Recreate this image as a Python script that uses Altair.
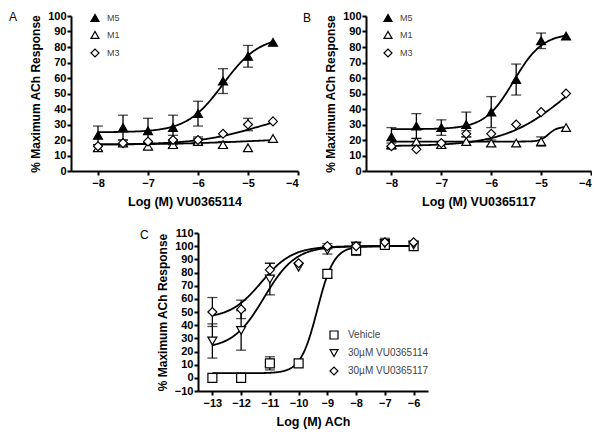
import altair as alt
import pandas as pd

FONT = "Liberation Sans"

# ---------------- data ----------------
dose_ab = [-8, -7.5, -7, -6.5, -6, -5.5, -5, -4.5]
series_ab = ["M5", "M1", "M3"]

a_m5 = [23, 28, 26, 28, 37, 58, 74, 83]
a_m5_err = [6, 8, 8, 8, 8, 8, 7, 0]
a_m1 = [15, 18, 16, 17, 19, 17, 15, 21]
a_m1_err = [2, 0, 2, 2, 2, 2, 0, 0]
a_m3 = [16, 18, 19, 20, 20, 24, 30, 32]
a_m3_err = [0, 2, 0, 3, 2, 0, 4, 0]

b_m5 = [22, 29, 28, 30, 38, 59, 84, 87]
b_m5_err = [6, 8, 5, 8, 10, 10, 5, 0]
b_m1 = [17, 19, 17, 19, 18, 18, 19, 28]
b_m1_err = [0, 2, 2, 0, 2, 0, 3, 0]
b_m3 = [16, 14, 18, 24, 24, 30, 38, 50]
b_m3_err = [2, 0, 0, 2, 0, 0, 0, 0]

dose_c = [-13, -12, -11, -10, -9, -8, -7, -6]
series_c = ["Vehicle", "30\u00b5M VU0365114", "30\u00b5M VU0365117"]
c_veh = [0, 0, 11, 11, 79, 97, 101, 100]
c_veh_err = [0, 0, 5, 0, 3, 4, 3, 0]
c_114 = [28, 36, 75, 84, 97, 100, 102, 101]
c_114_err = [13, 15, 12, 0, 3, 3, 3, 0]
c_117 = [50, 52, 82, 87, 100, 100, 103, 103]
c_117_err = [11, 7, 5, 0, 2, 0, 3, 0]

# fitted sigmoid parameters: bottom, top, logEC50, hill
fit_a = {"M5": [25, 87, -5.5, 1.2], "M1": [17, 22, -4.8, 0.5], "M3": [17, 40, -4.8, 0.7]}
fit_b = {"M5": [27, 89, -5.55, 1.5], "M1": [19, 28.5, -4.85, 5], "M3": [16, 80, -4.5, 0.7]}
fit_c = {"Vehicle": [3.5, 100, -9.35, 1.5],
         "30\u00b5M VU0365114": [22, 100, -11.2, 0.8],
         "30\u00b5M VU0365117": [45, 100, -11.3, 0.8]}


def frame(x, names, vals, errs):
    rows = []
    for n, v, e in zip(names, vals, errs):
        for xi, yi, ei in zip(x, v, e):
            rows.append({"x": xi, "y": yi, "err": ei, "s": n})
    return pd.DataFrame(rows)


def panel(df, fits, names, shapes, fills, xdom, xvals, ydom, yvals, xtitle,
          w, h, letter, letter_xy, leg, xrange_fit, sym_size, leg_font, leg_row, leg_off):
    xs = alt.Scale(domain=xdom, nice=False, zero=False)
    ys = alt.Scale(domain=ydom, nice=False, zero=False)
    xax = alt.Axis(values=xvals, title=xtitle, labelPadding=2, titlePadding=7, tickSize=4,
                   labelOverlap=False)
    yax = alt.Axis(values=yvals, title="% Maximum ACh Response", labelPadding=1,
                   titlePadding=5, tickSize=4, labelOverlap=False)

    def X(f="x"):
        return alt.X(f + ":Q", scale=xs, axis=xax)

    def Y(f="y"):
        return alt.Y(f + ":Q", scale=ys, axis=yax)

    layers = []
    for n in names:
        b, t, ec, hl = fits[n]
        c = (alt.Chart(alt.sequence(xrange_fit[0], xrange_fit[1] + 0.001, 0.02, as_="x"))
             .transform_calculate(y=f"{b} + ({t} - {b}) / (1 + pow(10, ({ec} - datum.x) * {hl}))")
             .mark_line(color="black", strokeWidth=1.8)
             .encode(x=X(), y=Y()))
        layers.append(c)
    base = (alt.Chart(df).transform_filter("datum.err > 0")
            .transform_calculate(lo="datum.y - datum.err", hi="datum.y + datum.err"))
    layers.append(base.mark_rule(color="black", strokeWidth=1.3).encode(
        x=X(), y=Y("lo"), y2="hi:Q"))
    for f in ["lo", "hi"]:
        layers.append(base.mark_tick(color="black", size=10, thickness=1.3, orient="horizontal").encode(
            x=X(), y=Y(f)))
    legend = alt.Legend(orient="none", legendX=leg[0], legendY=leg[1], title=None,
                        labelFont=FONT, labelFontSize=leg_font, labelColor="#444",
                        symbolStrokeColor="black", symbolStrokeWidth=1.2, symbolSize=sym_size,
                        rowPadding=leg_row, labelOffset=leg_off, padding=0)
    layers.append(alt.Chart(df).mark_point(filled=True, strokeWidth=1.2,
                                           size=sym_size + 16, opacity=1).encode(
        x=X(), y=Y(),
        shape=alt.Shape("s:N", scale=alt.Scale(domain=names, range=shapes), legend=legend),
        fill=alt.Fill("s:N", scale=alt.Scale(domain=names, range=fills), legend=legend),
        stroke=alt.Stroke("s:N", scale=alt.Scale(domain=names, range=["black"] * 3), legend=legend)))
    layers.append(alt.Chart(pd.DataFrame({"t": [letter]})).mark_text(
        align="left", baseline="middle", font=FONT, fontSize=12, color="black").encode(
        x=alt.value(letter_xy[0]), y=alt.value(letter_xy[1]), text="t:N"))
    return alt.layer(*layers).properties(width=w, height=h)


df_a = frame(dose_ab, series_ab, [a_m5, a_m1, a_m3], [a_m5_err, a_m1_err, a_m3_err])
df_b = frame(dose_ab, series_ab, [b_m5, b_m1, b_m3], [b_m5_err, b_m1_err, b_m3_err])
df_c = frame(dose_c, series_c, [c_veh, c_114, c_117], [c_veh_err, c_114_err, c_117_err])

tri = ["triangle-up", "triangle-up", "diamond"]
fab = ["black", "white", "white"]

pa = panel(df_a, fit_a, series_ab, tri, fab, [-8.54, -4], [-8, -7, -6, -5, -4],
           [0, 100], list(range(0, 101, 10)), "Log (M) VU0365114", 227, 155,
           "A", (-62, 1), (19, -3), (-8, -4.5), 64, 9, 5, 7)
pb = panel(df_b, fit_b, series_ab, tri, fab, [-8.51, -4], [-8, -7, -6, -5, -4],
           [0, 100], list(range(0, 101, 10)), "Log (M) VU0365117", 225, 155,
           "B", (-63, 2), (17, -3), (-8, -4.5), 64, 9, 5, 7)
pc = panel(df_c, fit_c, series_c, ["square", "triangle-down", "diamond"],
           ["white", "white", "white"], [-13.5, -5.5], list(range(-13, -5)),
           [-10, 110], list(range(-10, 111, 10)), "Log (M) ACh", 230, 158,
           "C", (-58, 2), (131, 97), (-13, -6), 64, 10, 5, 9)

spacer = alt.Chart(pd.DataFrame({"a": [0]})).mark_point(opacity=0).encode(
    x=alt.value(0), y=alt.value(0)).properties(width=1, height=1)

top = alt.hconcat(pa, pb, spacing=68, bounds="flush").resolve_scale(
    shape="independent", fill="independent", stroke="independent")
bottom = alt.hconcat(spacer, pc, spacing=126, bounds="flush").resolve_scale(
    shape="independent", fill="independent", stroke="independent")

chart = alt.vconcat(top, bottom, spacing=19).resolve_scale(
    shape="independent", fill="independent", stroke="independent").properties(
    padding={"left": 1, "top": 2, "right": 0, "bottom": 2}
).configure_view(stroke=None).configure_axis(
    grid=False, domainColor="black", domainWidth=2, tickColor="black", tickWidth=2,
    labelFont=FONT, labelFontWeight="bold", labelFontSize=11, labelColor="black",
    titleFont=FONT, titleFontWeight="bold", titleFontSize=12.5, titleColor="black"
).configure_axisY(titleFontSize=12)

chart.save("out.html", embed_options={"renderer": "svg", "actions": False})
